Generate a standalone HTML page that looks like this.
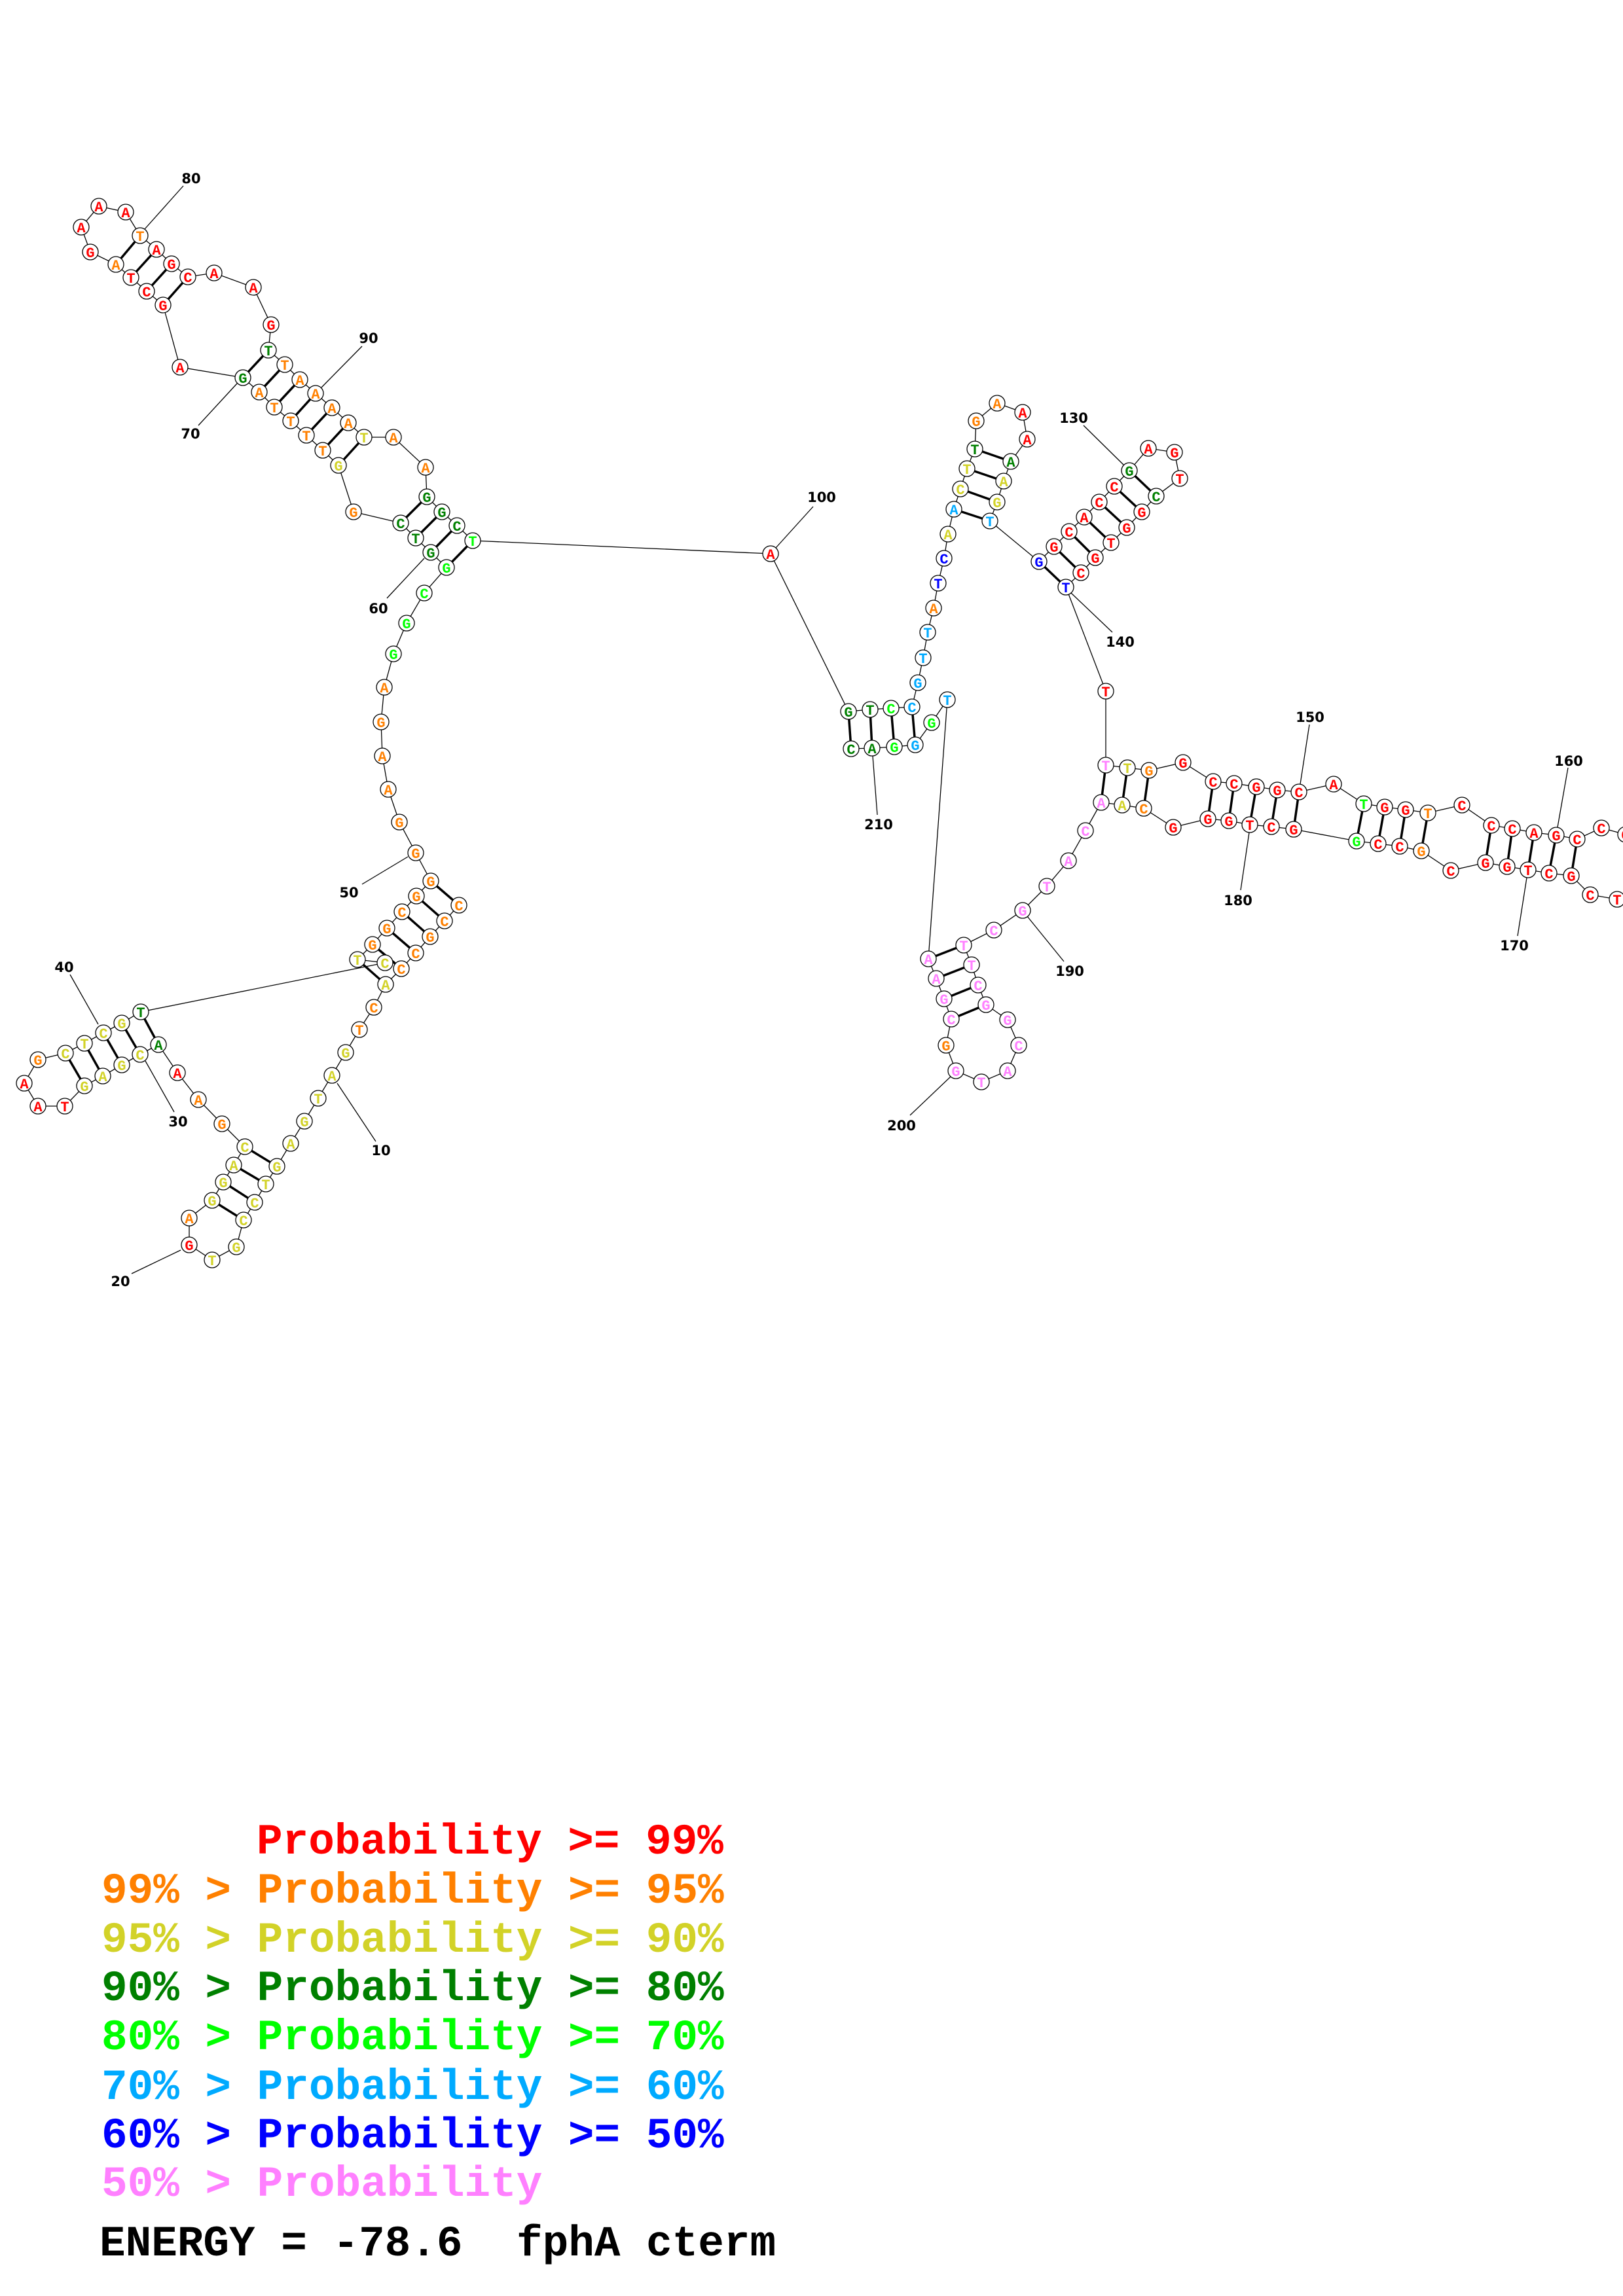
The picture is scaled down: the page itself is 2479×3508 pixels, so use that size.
<!DOCTYPE html>
<html><head><meta charset="utf-8"><style>
html,body{margin:0;padding:0;background:#fff}
svg{display:block}
.n circle{fill:#fff;stroke:#000;stroke-width:1.3}
.n text{font-family:"Liberation Mono",monospace;font-weight:bold;font-size:22px;text-anchor:middle}
.R{fill:#ff0000}.O{fill:#ff8000}.Y{fill:#d2d228}.D{fill:#008000}.L{fill:#00ff00}.S{fill:#00aaff}.B{fill:#0000ff}.P{fill:#ff80ff}
.lb{font-family:"DejaVu Sans",sans-serif;font-weight:bold;font-size:21px;text-anchor:middle;fill:#000}
.lg{font-family:"Liberation Mono",monospace;font-weight:bold;font-size:66px}
</style></head><body>
<svg width="2479" height="3508" viewBox="0 0 2479 3508" xmlns="http://www.w3.org/2000/svg">
<rect width="2479" height="3508" fill="#fff"/>
<polyline fill="none" stroke="#000" stroke-width="1.3" points="701,1383 679,1407 657,1431 635,1456 613,1480 589,1504 571,1539 549,1573 528,1608 507,1643 486,1678 465,1713 444,1747 423,1782 406,1809 389,1837 372,1864 361,1905 324,1925 289,1902 289,1861 324,1834 341,1806 357,1780 374,1752 339,1717 303,1680 271,1639 242,1596 214,1611 186,1627 157,1644 129,1659 99,1690 58,1690 37,1655 58,1619 100,1609 129,1594 158,1578 186,1563 215,1546 588,1471 546,1466 569,1443 591,1418 614,1393 636,1369 658,1346 635,1303 610,1256 593,1206 584,1155 582,1103 587,1050 601,999 621,952 648,906 682,867 658,844 635,822 612,799 540,782 517,711 493,688 468,665 444,643 419,622 396,599 371,577 275,561 249,466 224,445 200,424 177,404 138,385 124,347 151,315 192,324 214,360 239,381 262,403 287,423 327,417 387,439 414,496 410,535 435,557 458,580 482,601 507,623 532,646 556,668 601,668 650,714 652,759 675,782 698,803 722,826 1177,846 1296,1087 1329,1084 1361,1082 1393,1080 1402,1043 1410,1005 1417,966 1426,929 1433,891 1442,853 1448,816 1457,778 1467,747 1477,716 1489,686 1491,643 1523,616 1562,630 1569,671 1544,705 1533,735 1523,767 1512,796 1587,858 1610,835 1633,812 1656,790 1679,767 1702,743 1725,719 1754,685 1794,691 1802,731 1766,758 1744,782 1721,806 1697,829 1673,852 1651,875 1628,897 1689,1056 1689,1169 1722,1173 1755,1177 1807,1165 1853,1194 1885,1197 1919,1202 1951,1207 1984,1210 2037,1198 2083,1228 2115,1233 2147,1237 2181,1242 2233,1230 2278,1261 2310,1266 2343,1272 2377,1276 2409,1282 2446,1265 2483,1275 2515,1300 2505,1360 2470,1374 2429,1367 2400,1338 2366,1334 2334,1329 2302,1324 2269,1318 2216,1330 2171,1300 2138,1293 2105,1289 2072,1285 1976,1267 1942,1263 1909,1260 1877,1254 1845,1251 1792,1264 1747,1235 1714,1230 1682,1226 1658,1269 1632,1315 1599,1354 1562,1391 1518,1421 1472,1444 1484,1474 1494,1505 1506,1535 1539,1558 1556,1597 1539,1636 1499,1653 1460,1636 1445,1597 1453,1557 1442,1526 1430,1495 1418,1465 1447,1069 1423,1104 1398,1138 1366,1141 1332,1143 1300,1144"/>
<g stroke="#000" stroke-width="3.5">
<line x1="701" y1="1383" x2="658" y2="1346"/><line x1="679" y1="1407" x2="636" y2="1369"/><line x1="657" y1="1431" x2="614" y2="1393"/><line x1="635" y1="1456" x2="591" y2="1418"/><line x1="613" y1="1480" x2="569" y2="1443"/><line x1="589" y1="1504" x2="546" y2="1466"/>
<line x1="374" y1="1752" x2="423" y2="1782"/><line x1="357" y1="1780" x2="406" y2="1809"/><line x1="341" y1="1806" x2="389" y2="1837"/><line x1="324" y1="1834" x2="372" y2="1864"/>
<line x1="215" y1="1546" x2="242" y2="1596"/><line x1="186" y1="1563" x2="214" y2="1611"/><line x1="158" y1="1578" x2="186" y2="1627"/><line x1="129" y1="1594" x2="157" y2="1644"/><line x1="100" y1="1609" x2="129" y2="1659"/>
<line x1="682" y1="867" x2="722" y2="826"/><line x1="658" y1="844" x2="698" y2="803"/><line x1="635" y1="822" x2="675" y2="782"/><line x1="612" y1="799" x2="652" y2="759"/>
<line x1="517" y1="711" x2="556" y2="668"/><line x1="493" y1="688" x2="532" y2="646"/><line x1="468" y1="665" x2="507" y2="623"/><line x1="444" y1="643" x2="482" y2="601"/><line x1="419" y1="622" x2="458" y2="580"/><line x1="396" y1="599" x2="435" y2="557"/><line x1="371" y1="577" x2="410" y2="535"/>
<line x1="249" y1="466" x2="287" y2="423"/><line x1="224" y1="445" x2="262" y2="403"/><line x1="200" y1="424" x2="239" y2="381"/><line x1="177" y1="404" x2="214" y2="360"/>
<line x1="1296" y1="1087" x2="1300" y2="1144"/><line x1="1329" y1="1084" x2="1332" y2="1143"/><line x1="1361" y1="1082" x2="1366" y2="1141"/><line x1="1393" y1="1080" x2="1398" y2="1138"/>
<line x1="1457" y1="778" x2="1512" y2="796"/><line x1="1467" y1="747" x2="1523" y2="767"/><line x1="1477" y1="716" x2="1533" y2="735"/><line x1="1489" y1="686" x2="1544" y2="705"/>
<line x1="1587" y1="858" x2="1628" y2="897"/><line x1="1610" y1="835" x2="1651" y2="875"/><line x1="1633" y1="812" x2="1673" y2="852"/><line x1="1656" y1="790" x2="1697" y2="829"/><line x1="1679" y1="767" x2="1721" y2="806"/><line x1="1702" y1="743" x2="1744" y2="782"/><line x1="1725" y1="719" x2="1766" y2="758"/>
<line x1="1689" y1="1169" x2="1682" y2="1226"/><line x1="1722" y1="1173" x2="1714" y2="1230"/><line x1="1755" y1="1177" x2="1747" y2="1235"/>
<line x1="1853" y1="1194" x2="1845" y2="1251"/><line x1="1885" y1="1197" x2="1877" y2="1254"/><line x1="1919" y1="1202" x2="1909" y2="1260"/><line x1="1951" y1="1207" x2="1942" y2="1263"/><line x1="1984" y1="1210" x2="1976" y2="1267"/>
<line x1="2083" y1="1228" x2="2072" y2="1285"/><line x1="2115" y1="1233" x2="2105" y2="1289"/><line x1="2147" y1="1237" x2="2138" y2="1293"/><line x1="2181" y1="1242" x2="2171" y2="1300"/>
<line x1="2278" y1="1261" x2="2269" y2="1318"/><line x1="2310" y1="1266" x2="2302" y2="1324"/><line x1="2343" y1="1272" x2="2334" y2="1329"/><line x1="2377" y1="1276" x2="2366" y2="1334"/><line x1="2409" y1="1282" x2="2400" y2="1338"/>
<line x1="1472" y1="1444" x2="1418" y2="1465"/><line x1="1484" y1="1474" x2="1430" y2="1495"/><line x1="1494" y1="1505" x2="1442" y2="1526"/><line x1="1506" y1="1535" x2="1453" y2="1557"/>
</g>
<g stroke="#000" stroke-width="1.3">
<line x1="515" y1="1655" x2="574" y2="1744"/><line x1="276" y1="1910" x2="201" y2="1946"/><line x1="222" y1="1621" x2="266" y2="1699"/><line x1="107" y1="1489" x2="150" y2="1565"/>
<line x1="553" y1="1351" x2="623" y2="1309"/><line x1="591" y1="914" x2="648" y2="853"/><line x1="303" y1="650" x2="362" y2="586"/><line x1="280" y1="284" x2="221" y2="350"/><line x1="553" y1="529" x2="491" y2="592"/>
<line x1="1242" y1="774" x2="1185" y2="837"/><line x1="1655" y1="650" x2="1717" y2="711"/><line x1="1699" y1="966" x2="1636" y2="906"/><line x1="2000" y1="1107" x2="1986" y2="1198"/><line x1="2395" y1="1173" x2="2379" y2="1264"/>
<line x1="2318" y1="1430" x2="2332" y2="1341"/><line x1="1895" y1="1360" x2="1908" y2="1272"/><line x1="1625" y1="1469" x2="1569" y2="1400"/><line x1="1390" y1="1704" x2="1452" y2="1645"/><line x1="1340" y1="1245" x2="1333" y2="1155"/>
</g>
<g class="lb">
<text x="582" y="1765">10</text><text x="184" y="1965">20</text><text x="272" y="1721">30</text><text x="98" y="1485">40</text><text x="533" y="1371">50</text><text x="578" y="937">60</text><text x="291" y="670">70</text><text x="292" y="280">80</text><text x="563" y="524">90</text><text x="1255" y="767">100</text><text x="1640" y="646">130</text><text x="1711" y="988">140</text><text x="2001" y="1103">150</text><text x="2396" y="1170">160</text><text x="2313" y="1452">170</text><text x="1891" y="1383">180</text><text x="1634" y="1491">190</text><text x="1377" y="1727">200</text><text x="1342" y="1267">210</text>
</g>
<g class="n">
<circle cx="701" cy="1383" r="12"/><text x="701" y="1391" class="O">C</text>
<circle cx="679" cy="1407" r="12"/><text x="679" y="1415" class="O">C</text>
<circle cx="657" cy="1431" r="12"/><text x="657" y="1439" class="O">G</text>
<circle cx="635" cy="1456" r="12"/><text x="635" y="1464" class="O">C</text>
<circle cx="613" cy="1480" r="12"/><text x="613" y="1488" class="O">C</text>
<circle cx="589" cy="1504" r="12"/><text x="589" y="1512" class="Y">A</text>
<circle cx="571" cy="1539" r="12"/><text x="571" y="1547" class="O">C</text>
<circle cx="549" cy="1573" r="12"/><text x="549" y="1581" class="O">T</text>
<circle cx="528" cy="1608" r="12"/><text x="528" y="1616" class="Y">G</text>
<circle cx="507" cy="1643" r="12"/><text x="507" y="1651" class="Y">A</text>
<circle cx="486" cy="1678" r="12"/><text x="486" y="1686" class="Y">T</text>
<circle cx="465" cy="1713" r="12"/><text x="465" y="1721" class="Y">G</text>
<circle cx="444" cy="1747" r="12"/><text x="444" y="1755" class="Y">A</text>
<circle cx="423" cy="1782" r="12"/><text x="423" y="1790" class="Y">G</text>
<circle cx="406" cy="1809" r="12"/><text x="406" y="1817" class="Y">T</text>
<circle cx="389" cy="1837" r="12"/><text x="389" y="1845" class="Y">C</text>
<circle cx="372" cy="1864" r="12"/><text x="372" y="1872" class="Y">C</text>
<circle cx="361" cy="1905" r="12"/><text x="361" y="1913" class="Y">G</text>
<circle cx="324" cy="1925" r="12"/><text x="324" y="1933" class="Y">T</text>
<circle cx="289" cy="1902" r="12"/><text x="289" y="1910" class="R">G</text>
<circle cx="289" cy="1861" r="12"/><text x="289" y="1869" class="O">A</text>
<circle cx="324" cy="1834" r="12"/><text x="324" y="1842" class="Y">G</text>
<circle cx="341" cy="1806" r="12"/><text x="341" y="1814" class="Y">G</text>
<circle cx="357" cy="1780" r="12"/><text x="357" y="1788" class="Y">A</text>
<circle cx="374" cy="1752" r="12"/><text x="374" y="1760" class="Y">C</text>
<circle cx="339" cy="1717" r="12"/><text x="339" y="1725" class="O">G</text>
<circle cx="303" cy="1680" r="12"/><text x="303" y="1688" class="O">A</text>
<circle cx="271" cy="1639" r="12"/><text x="271" y="1647" class="R">A</text>
<circle cx="242" cy="1596" r="12"/><text x="242" y="1604" class="D">A</text>
<circle cx="214" cy="1611" r="12"/><text x="214" y="1619" class="Y">C</text>
<circle cx="186" cy="1627" r="12"/><text x="186" y="1635" class="Y">G</text>
<circle cx="157" cy="1644" r="12"/><text x="157" y="1652" class="Y">A</text>
<circle cx="129" cy="1659" r="12"/><text x="129" y="1667" class="Y">G</text>
<circle cx="99" cy="1690" r="12"/><text x="99" y="1698" class="R">T</text>
<circle cx="58" cy="1690" r="12"/><text x="58" y="1698" class="R">A</text>
<circle cx="37" cy="1655" r="12"/><text x="37" y="1663" class="R">A</text>
<circle cx="58" cy="1619" r="12"/><text x="58" y="1627" class="O">G</text>
<circle cx="100" cy="1609" r="12"/><text x="100" y="1617" class="Y">C</text>
<circle cx="129" cy="1594" r="12"/><text x="129" y="1602" class="Y">T</text>
<circle cx="158" cy="1578" r="12"/><text x="158" y="1586" class="Y">C</text>
<circle cx="186" cy="1563" r="12"/><text x="186" y="1571" class="Y">G</text>
<circle cx="215" cy="1546" r="12"/><text x="215" y="1554" class="D">T</text>
<circle cx="588" cy="1471" r="12"/><text x="588" y="1479" class="Y">C</text>
<circle cx="546" cy="1466" r="12"/><text x="546" y="1474" class="Y">T</text>
<circle cx="569" cy="1443" r="12"/><text x="569" y="1451" class="O">G</text>
<circle cx="591" cy="1418" r="12"/><text x="591" y="1426" class="O">G</text>
<circle cx="614" cy="1393" r="12"/><text x="614" y="1401" class="O">C</text>
<circle cx="636" cy="1369" r="12"/><text x="636" y="1377" class="O">G</text>
<circle cx="658" cy="1346" r="12"/><text x="658" y="1354" class="O">G</text>
<circle cx="635" cy="1303" r="12"/><text x="635" y="1311" class="O">G</text>
<circle cx="610" cy="1256" r="12"/><text x="610" y="1264" class="O">G</text>
<circle cx="593" cy="1206" r="12"/><text x="593" y="1214" class="O">A</text>
<circle cx="584" cy="1155" r="12"/><text x="584" y="1163" class="O">A</text>
<circle cx="582" cy="1103" r="12"/><text x="582" y="1111" class="O">G</text>
<circle cx="587" cy="1050" r="12"/><text x="587" y="1058" class="O">A</text>
<circle cx="601" cy="999" r="12"/><text x="601" y="1007" class="L">G</text>
<circle cx="621" cy="952" r="12"/><text x="621" y="960" class="L">G</text>
<circle cx="648" cy="906" r="12"/><text x="648" y="914" class="L">C</text>
<circle cx="682" cy="867" r="12"/><text x="682" y="875" class="L">G</text>
<circle cx="658" cy="844" r="12"/><text x="658" y="852" class="D">G</text>
<circle cx="635" cy="822" r="12"/><text x="635" y="830" class="D">T</text>
<circle cx="612" cy="799" r="12"/><text x="612" y="807" class="D">C</text>
<circle cx="540" cy="782" r="12"/><text x="540" y="790" class="O">G</text>
<circle cx="517" cy="711" r="12"/><text x="517" y="719" class="Y">G</text>
<circle cx="493" cy="688" r="12"/><text x="493" y="696" class="O">T</text>
<circle cx="468" cy="665" r="12"/><text x="468" y="673" class="O">T</text>
<circle cx="444" cy="643" r="12"/><text x="444" y="651" class="O">T</text>
<circle cx="419" cy="622" r="12"/><text x="419" y="630" class="O">T</text>
<circle cx="396" cy="599" r="12"/><text x="396" y="607" class="O">A</text>
<circle cx="371" cy="577" r="12"/><text x="371" y="585" class="D">G</text>
<circle cx="275" cy="561" r="12"/><text x="275" y="569" class="R">A</text>
<circle cx="249" cy="466" r="12"/><text x="249" y="474" class="R">G</text>
<circle cx="224" cy="445" r="12"/><text x="224" y="453" class="R">C</text>
<circle cx="200" cy="424" r="12"/><text x="200" y="432" class="R">T</text>
<circle cx="177" cy="404" r="12"/><text x="177" y="412" class="O">A</text>
<circle cx="138" cy="385" r="12"/><text x="138" y="393" class="R">G</text>
<circle cx="124" cy="347" r="12"/><text x="124" y="355" class="R">A</text>
<circle cx="151" cy="315" r="12"/><text x="151" y="323" class="R">A</text>
<circle cx="192" cy="324" r="12"/><text x="192" y="332" class="R">A</text>
<circle cx="214" cy="360" r="12"/><text x="214" y="368" class="O">T</text>
<circle cx="239" cy="381" r="12"/><text x="239" y="389" class="R">A</text>
<circle cx="262" cy="403" r="12"/><text x="262" y="411" class="R">G</text>
<circle cx="287" cy="423" r="12"/><text x="287" y="431" class="R">C</text>
<circle cx="327" cy="417" r="12"/><text x="327" y="425" class="R">A</text>
<circle cx="387" cy="439" r="12"/><text x="387" y="447" class="R">A</text>
<circle cx="414" cy="496" r="12"/><text x="414" y="504" class="R">G</text>
<circle cx="410" cy="535" r="12"/><text x="410" y="543" class="D">T</text>
<circle cx="435" cy="557" r="12"/><text x="435" y="565" class="O">T</text>
<circle cx="458" cy="580" r="12"/><text x="458" y="588" class="O">A</text>
<circle cx="482" cy="601" r="12"/><text x="482" y="609" class="O">A</text>
<circle cx="507" cy="623" r="12"/><text x="507" y="631" class="O">A</text>
<circle cx="532" cy="646" r="12"/><text x="532" y="654" class="O">A</text>
<circle cx="556" cy="668" r="12"/><text x="556" y="676" class="Y">T</text>
<circle cx="601" cy="668" r="12"/><text x="601" y="676" class="O">A</text>
<circle cx="650" cy="714" r="12"/><text x="650" y="722" class="O">A</text>
<circle cx="652" cy="759" r="12"/><text x="652" y="767" class="D">G</text>
<circle cx="675" cy="782" r="12"/><text x="675" y="790" class="D">G</text>
<circle cx="698" cy="803" r="12"/><text x="698" y="811" class="D">C</text>
<circle cx="722" cy="826" r="12"/><text x="722" y="834" class="L">T</text>
<circle cx="1177" cy="846" r="12"/><text x="1177" y="854" class="R">A</text>
<circle cx="1296" cy="1087" r="12"/><text x="1296" y="1095" class="D">G</text>
<circle cx="1329" cy="1084" r="12"/><text x="1329" y="1092" class="D">T</text>
<circle cx="1361" cy="1082" r="12"/><text x="1361" y="1090" class="L">C</text>
<circle cx="1393" cy="1080" r="12"/><text x="1393" y="1088" class="S">C</text>
<circle cx="1402" cy="1043" r="12"/><text x="1402" y="1051" class="S">G</text>
<circle cx="1410" cy="1005" r="12"/><text x="1410" y="1013" class="S">T</text>
<circle cx="1417" cy="966" r="12"/><text x="1417" y="974" class="S">T</text>
<circle cx="1426" cy="929" r="12"/><text x="1426" y="937" class="O">A</text>
<circle cx="1433" cy="891" r="12"/><text x="1433" y="899" class="B">T</text>
<circle cx="1442" cy="853" r="12"/><text x="1442" y="861" class="B">C</text>
<circle cx="1448" cy="816" r="12"/><text x="1448" y="824" class="Y">A</text>
<circle cx="1457" cy="778" r="12"/><text x="1457" y="786" class="S">A</text>
<circle cx="1467" cy="747" r="12"/><text x="1467" y="755" class="Y">C</text>
<circle cx="1477" cy="716" r="12"/><text x="1477" y="724" class="Y">T</text>
<circle cx="1489" cy="686" r="12"/><text x="1489" y="694" class="D">T</text>
<circle cx="1491" cy="643" r="12"/><text x="1491" y="651" class="O">G</text>
<circle cx="1523" cy="616" r="12"/><text x="1523" y="624" class="O">A</text>
<circle cx="1562" cy="630" r="12"/><text x="1562" y="638" class="R">A</text>
<circle cx="1569" cy="671" r="12"/><text x="1569" y="679" class="R">A</text>
<circle cx="1544" cy="705" r="12"/><text x="1544" y="713" class="D">A</text>
<circle cx="1533" cy="735" r="12"/><text x="1533" y="743" class="Y">A</text>
<circle cx="1523" cy="767" r="12"/><text x="1523" y="775" class="Y">G</text>
<circle cx="1512" cy="796" r="12"/><text x="1512" y="804" class="S">T</text>
<circle cx="1587" cy="858" r="12"/><text x="1587" y="866" class="B">G</text>
<circle cx="1610" cy="835" r="12"/><text x="1610" y="843" class="R">G</text>
<circle cx="1633" cy="812" r="12"/><text x="1633" y="820" class="R">C</text>
<circle cx="1656" cy="790" r="12"/><text x="1656" y="798" class="R">A</text>
<circle cx="1679" cy="767" r="12"/><text x="1679" y="775" class="R">C</text>
<circle cx="1702" cy="743" r="12"/><text x="1702" y="751" class="R">C</text>
<circle cx="1725" cy="719" r="12"/><text x="1725" y="727" class="D">G</text>
<circle cx="1754" cy="685" r="12"/><text x="1754" y="693" class="R">A</text>
<circle cx="1794" cy="691" r="12"/><text x="1794" y="699" class="R">G</text>
<circle cx="1802" cy="731" r="12"/><text x="1802" y="739" class="R">T</text>
<circle cx="1766" cy="758" r="12"/><text x="1766" y="766" class="D">C</text>
<circle cx="1744" cy="782" r="12"/><text x="1744" y="790" class="R">G</text>
<circle cx="1721" cy="806" r="12"/><text x="1721" y="814" class="R">G</text>
<circle cx="1697" cy="829" r="12"/><text x="1697" y="837" class="R">T</text>
<circle cx="1673" cy="852" r="12"/><text x="1673" y="860" class="R">G</text>
<circle cx="1651" cy="875" r="12"/><text x="1651" y="883" class="R">C</text>
<circle cx="1628" cy="897" r="12"/><text x="1628" y="905" class="B">T</text>
<circle cx="1689" cy="1056" r="12"/><text x="1689" y="1064" class="R">T</text>
<circle cx="1689" cy="1169" r="12"/><text x="1689" y="1177" class="P">T</text>
<circle cx="1722" cy="1173" r="12"/><text x="1722" y="1181" class="Y">T</text>
<circle cx="1755" cy="1177" r="12"/><text x="1755" y="1185" class="O">G</text>
<circle cx="1807" cy="1165" r="12"/><text x="1807" y="1173" class="R">G</text>
<circle cx="1853" cy="1194" r="12"/><text x="1853" y="1202" class="R">C</text>
<circle cx="1885" cy="1197" r="12"/><text x="1885" y="1205" class="R">C</text>
<circle cx="1919" cy="1202" r="12"/><text x="1919" y="1210" class="R">G</text>
<circle cx="1951" cy="1207" r="12"/><text x="1951" y="1215" class="R">G</text>
<circle cx="1984" cy="1210" r="12"/><text x="1984" y="1218" class="R">C</text>
<circle cx="2037" cy="1198" r="12"/><text x="2037" y="1206" class="R">A</text>
<circle cx="2083" cy="1228" r="12"/><text x="2083" y="1236" class="L">T</text>
<circle cx="2115" cy="1233" r="12"/><text x="2115" y="1241" class="R">G</text>
<circle cx="2147" cy="1237" r="12"/><text x="2147" y="1245" class="R">G</text>
<circle cx="2181" cy="1242" r="12"/><text x="2181" y="1250" class="O">T</text>
<circle cx="2233" cy="1230" r="12"/><text x="2233" y="1238" class="R">C</text>
<circle cx="2278" cy="1261" r="12"/><text x="2278" y="1269" class="R">C</text>
<circle cx="2310" cy="1266" r="12"/><text x="2310" y="1274" class="R">C</text>
<circle cx="2343" cy="1272" r="12"/><text x="2343" y="1280" class="R">A</text>
<circle cx="2377" cy="1276" r="12"/><text x="2377" y="1284" class="R">G</text>
<circle cx="2409" cy="1282" r="12"/><text x="2409" y="1290" class="R">C</text>
<circle cx="2446" cy="1265" r="12"/><text x="2446" y="1273" class="R">C</text>
<circle cx="2483" cy="1275" r="12"/><text x="2483" y="1283" class="R">C</text>
<circle cx="2470" cy="1374" r="12"/><text x="2470" y="1382" class="R">T</text>
<circle cx="2429" cy="1367" r="12"/><text x="2429" y="1375" class="R">C</text>
<circle cx="2400" cy="1338" r="12"/><text x="2400" y="1346" class="R">G</text>
<circle cx="2366" cy="1334" r="12"/><text x="2366" y="1342" class="R">C</text>
<circle cx="2334" cy="1329" r="12"/><text x="2334" y="1337" class="R">T</text>
<circle cx="2302" cy="1324" r="12"/><text x="2302" y="1332" class="R">G</text>
<circle cx="2269" cy="1318" r="12"/><text x="2269" y="1326" class="R">G</text>
<circle cx="2216" cy="1330" r="12"/><text x="2216" y="1338" class="R">C</text>
<circle cx="2171" cy="1300" r="12"/><text x="2171" y="1308" class="O">G</text>
<circle cx="2138" cy="1293" r="12"/><text x="2138" y="1301" class="R">C</text>
<circle cx="2105" cy="1289" r="12"/><text x="2105" y="1297" class="R">C</text>
<circle cx="2072" cy="1285" r="12"/><text x="2072" y="1293" class="L">G</text>
<circle cx="1976" cy="1267" r="12"/><text x="1976" y="1275" class="R">G</text>
<circle cx="1942" cy="1263" r="12"/><text x="1942" y="1271" class="R">C</text>
<circle cx="1909" cy="1260" r="12"/><text x="1909" y="1268" class="R">T</text>
<circle cx="1877" cy="1254" r="12"/><text x="1877" y="1262" class="R">G</text>
<circle cx="1845" cy="1251" r="12"/><text x="1845" y="1259" class="R">G</text>
<circle cx="1792" cy="1264" r="12"/><text x="1792" y="1272" class="R">G</text>
<circle cx="1747" cy="1235" r="12"/><text x="1747" y="1243" class="O">C</text>
<circle cx="1714" cy="1230" r="12"/><text x="1714" y="1238" class="Y">A</text>
<circle cx="1682" cy="1226" r="12"/><text x="1682" y="1234" class="P">A</text>
<circle cx="1658" cy="1269" r="12"/><text x="1658" y="1277" class="P">C</text>
<circle cx="1632" cy="1315" r="12"/><text x="1632" y="1323" class="P">A</text>
<circle cx="1599" cy="1354" r="12"/><text x="1599" y="1362" class="P">T</text>
<circle cx="1562" cy="1391" r="12"/><text x="1562" y="1399" class="P">G</text>
<circle cx="1518" cy="1421" r="12"/><text x="1518" y="1429" class="P">C</text>
<circle cx="1472" cy="1444" r="12"/><text x="1472" y="1452" class="P">T</text>
<circle cx="1484" cy="1474" r="12"/><text x="1484" y="1482" class="P">T</text>
<circle cx="1494" cy="1505" r="12"/><text x="1494" y="1513" class="P">C</text>
<circle cx="1506" cy="1535" r="12"/><text x="1506" y="1543" class="P">G</text>
<circle cx="1539" cy="1558" r="12"/><text x="1539" y="1566" class="P">G</text>
<circle cx="1556" cy="1597" r="12"/><text x="1556" y="1605" class="P">C</text>
<circle cx="1539" cy="1636" r="12"/><text x="1539" y="1644" class="P">A</text>
<circle cx="1499" cy="1653" r="12"/><text x="1499" y="1661" class="P">T</text>
<circle cx="1460" cy="1636" r="12"/><text x="1460" y="1644" class="P">G</text>
<circle cx="1445" cy="1597" r="12"/><text x="1445" y="1605" class="O">G</text>
<circle cx="1453" cy="1557" r="12"/><text x="1453" y="1565" class="P">C</text>
<circle cx="1442" cy="1526" r="12"/><text x="1442" y="1534" class="P">G</text>
<circle cx="1430" cy="1495" r="12"/><text x="1430" y="1503" class="P">A</text>
<circle cx="1418" cy="1465" r="12"/><text x="1418" y="1473" class="P">A</text>
<circle cx="1447" cy="1069" r="12"/><text x="1447" y="1077" class="S">T</text>
<circle cx="1423" cy="1104" r="12"/><text x="1423" y="1112" class="L">G</text>
<circle cx="1398" cy="1138" r="12"/><text x="1398" y="1146" class="S">G</text>
<circle cx="1366" cy="1141" r="12"/><text x="1366" y="1149" class="L">G</text>
<circle cx="1332" cy="1143" r="12"/><text x="1332" y="1151" class="D">A</text>
<circle cx="1300" cy="1144" r="12"/><text x="1300" y="1152" class="D">C</text>
</g>
<g class="lg">
<text x="392" y="2832" fill="#ff0000">Probability &gt;= 99%</text>
<text x="155" y="2907" fill="#ff8000">99% &gt; Probability &gt;= 95%</text>
<text x="155" y="2982" fill="#d2d228">95% &gt; Probability &gt;= 90%</text>
<text x="155" y="3056" fill="#008000">90% &gt; Probability &gt;= 80%</text>
<text x="155" y="3131" fill="#00ff00">80% &gt; Probability &gt;= 70%</text>
<text x="155" y="3207" fill="#00aaff">70% &gt; Probability &gt;= 60%</text>
<text x="155" y="3281" fill="#0000ff">60% &gt; Probability &gt;= 50%</text>
<text x="155" y="3355" fill="#ff80ff">50% &gt; Probability</text>
<text x="152" y="3446" fill="#000">ENERGY = -78.6</text>
<text x="789" y="3446" fill="#000">fphA cterm</text>
</g>
</svg>
</body></html>
